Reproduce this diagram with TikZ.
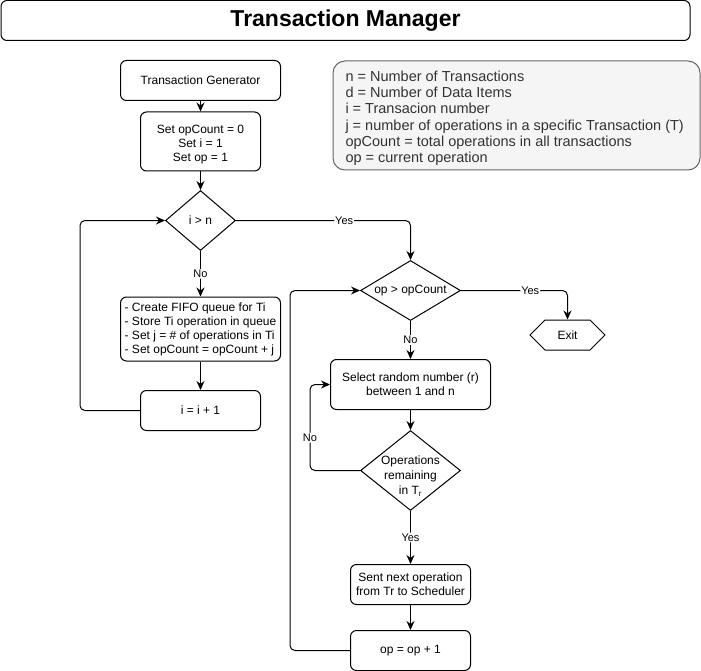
\documentclass[tikz,border=0pt]{standalone}
\usepackage{fontspec}
\setmainfont{Liberation Sans}
\usetikzlibrary{arrows.meta}
\usetikzlibrary{shapes.geometric}
\usetikzlibrary{shapes.symbols}
\usetikzlibrary{positioning}
\definecolor{keyfill}{HTML}{F5F5F5}
\definecolor{keydraw}{HTML}{666666}
\definecolor{keytext}{HTML}{333333}

\begin{document}
\begin{tikzpicture}[x=1pt, y=-1pt, line width=1pt]
	\tikzstyle{box}=[draw, rounded corners=6pt, align=center, inner sep=0pt,
	                        font=\fontsize{12}{14}\selectfont];
	\tikzstyle{dec}=[draw, diamond, inner sep=0pt];
	\tikzstyle{txt}=[align=center, inner sep=0pt, font=\fontsize{12}{15}\selectfont];
	\tikzstyle{la}=[fill=white, font=\fontsize{11}{13}\selectfont, inner sep=1pt];
	\tikzstyle{arr}=[-{Stealth[length=9pt, width=8pt, inset=3pt]}, rounded corners=5pt];
	\useasboundingbox (0,0) rectangle (701,671);
	% header and legend
	\node[draw, rounded corners=6pt, minimum width=689pt, minimum height=40pt,
	      font=\bfseries\fontsize{23}{26}\selectfont] (title) at (345.5,20.5) {Transaction Manager};
	\node[draw=keydraw, fill=keyfill, rounded corners=12pt,
	      minimum width=367pt, minimum height=109pt] (key) at (516.5,115.5) {};
	\node[anchor=west, align=left, inner sep=0pt, text=keytext,
	      font=\fontsize{14.5}{16.3}\selectfont] (keytxt) at (345,118.4)
	      {n = Number of Transactions\\
	       d = Number of Data Items\\
	       i = Transacion number\\
	       j = number of operations in a specific Transaction (T)\\
	       opCount = total operations in all transactions\\
	       op = current operation};
	% left column
	\node[box, minimum width=160pt, minimum height=40pt] (gen) at (200.5,80.5) {Transaction Generator};
	\node[box, minimum width=120pt, minimum height=59pt,
	      label={[txt, font=\fontsize{12}{14}\selectfont, yshift=-3pt]center:Set opCount = 0\\Set i = 1\\Set op = 1}]
	      (init) at (200.5,141.5) {};
	\node[dec, minimum width=70pt, minimum height=60pt,
	      label={[txt]center:i > n}] (ign) at (200.5,220.5) {};
	\node[box, align=left, minimum width=160pt, minimum height=64pt] (fifo) at (200.5,329)
	      {- Create FIFO queue for Ti\\- Store Ti operation in queue\\
	       - Set j = \# of operations in Ti\\- Set opCount = opCount + j};
	\node[box, minimum width=120pt, minimum height=40pt] (inc) at (200.5,410.5) {i = i + 1};
	% right column
	\node[dec, minimum width=100pt, minimum height=60pt,
	      label={[txt]center:op > opCount}] (opc) at (410.5,290.5) {};
	\node[draw, signal, signal to=west and east, signal pointer angle=90, inner sep=0pt,
	      minimum width=75pt, minimum height=30pt, font=\fontsize{12}{14}\selectfont] (exit) at (567.5,335) {Exit};
	\node[box, minimum width=160pt, minimum height=50pt] (sel) at (410.5,384.5)
	      {Select random number (r)\\between 1 and n};
	\node[dec, minimum width=100pt, minimum height=80pt,
	      label={[txt, yshift=-6pt]center:Operations\\remaining\\in T\textsubscript{r}}] (rem) at (410.5,470.5) {};
	\node[box, minimum width=120pt, minimum height=40pt] (send) at (410.5,584.5)
	      {Sent next operation\\from Tr to Scheduler};
	\node[box, minimum width=120pt, minimum height=40pt] (opinc) at (410.5,650.5) {op = op + 1};
	% connectors
	\foreach \a/\b in {gen/init, init/ign, fifo/inc, sel/rem, send/opinc}
	{\draw[arr] (\a) -- (\b);}
	\draw[arr] (ign.east) -| node[la, pos=0.31] {Yes} (opc.north);
	\draw[arr] (ign.south) -- node[la] {No} (fifo.north);
	\draw[arr] (inc.west) -- ++(-60,0) |- (ign.west);
	\draw[arr] (opc.east) -| node[la, pos=0.325] {Yes} (exit.north);
	\draw[arr] (opc.south) -- node[la] {No} (sel.north);
	\draw[arr] (rem.west) -- ++(-50,0) |- node[la, pos=0.19] {No} (sel.west);
	\draw[arr] (rem.south) -- node[la] {Yes} (send.north);
	\draw[arr] (opinc.west) -- ++(-60,0) |- (opc.west);
\end{tikzpicture}
\end{document}
